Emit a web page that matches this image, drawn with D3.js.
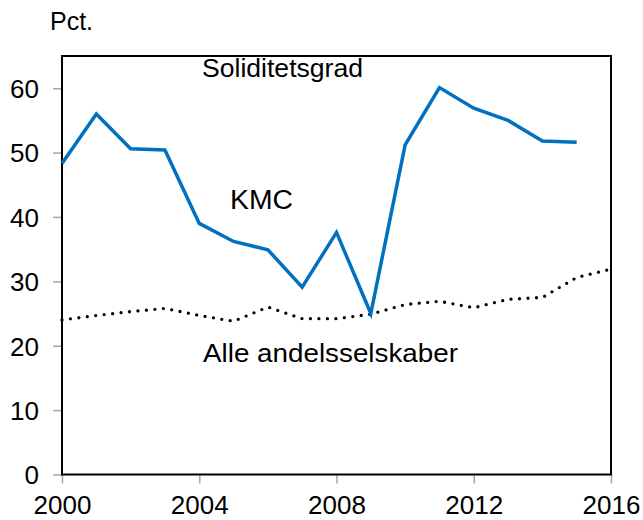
<!DOCTYPE html>
<html>
<head>
<meta charset="utf-8">
<script src="https://cdn.jsdelivr.net/npm/d3@7"></script>
<style>
  body { margin: 0; background: #fff; }
  svg text { font-family: "Liberation Sans", Arial, sans-serif; fill: #000; }
</style>
</head>
<body>
<svg id="chart"></svg>
<script>
// Data
const kmcYears = d3.range(2000, 2016);
const kmcValues = [48.3, 56.0, 50.6, 50.4, 39.0, 36.2, 34.9, 29.1, 37.6, 25.0, 51.2, 60.1, 56.9, 55.0, 51.8, 51.6];
const alleYears = d3.range(2000, 2017);
const alleValues = [24.0, 24.7, 25.3, 25.8, 24.7, 23.8, 26.0, 24.2, 24.2, 24.9, 26.4, 26.9, 25.9, 27.2, 27.5, 30.6, 31.9];
const xTicks = [2000, 2004, 2008, 2012, 2016];
const yTicks = [0, 10, 20, 30, 40, 50, 60];

const W = 643, H = 520;
const margin = { top: 56, right: 32, bottom: 45.5, left: 62 };
const width = W - margin.left - margin.right;
const height = H - margin.top - margin.bottom;

const svg = d3.select("#chart").attr("width", W).attr("height", H);
const g = svg.append("g").attr("transform", `translate(${margin.left},${margin.top})`);

const x = d3.scaleLinear().domain([2000, 2016]).range([0, width]);
const y = d3.scaleLinear().domain([0, 65]).range([height, 0]);

// y axis ticks + labels
const yAxis = g.append("g")
  .call(d3.axisLeft(y).tickValues(yTicks).tickSize(9).tickPadding(14).tickFormat(d3.format("d")));
yAxis.select(".domain").remove();
yAxis.selectAll(".tick line").attr("stroke", "#a6a6a6").attr("stroke-width", 1.5);
yAxis.selectAll(".tick text").style("font-size", "26px").attr("dy", "0.36em");

// x axis ticks + labels
const xAxis = g.append("g")
  .attr("transform", `translate(0,${height})`)
  .call(d3.axisBottom(x).tickValues(xTicks).tickSize(9).tickPadding(12).tickFormat(d3.format("d")));
xAxis.select(".domain").remove();
xAxis.selectAll(".tick line").attr("stroke", "#a6a6a6").attr("stroke-width", 1.5);
xAxis.selectAll(".tick text").style("font-size", "26px");

// plot frame
g.append("rect")
  .attr("x", 0).attr("y", 0)
  .attr("width", width).attr("height", height)
  .attr("fill", "none").attr("stroke", "#000").attr("stroke-width", 2);

const line = d3.line().x(d => x(d[0])).y(d => y(d[1]));

// Alle andelsselskaber (dotted)
g.append("path")
  .datum(d3.zip(alleYears, alleValues))
  .attr("d", line)
  .attr("fill", "none")
  .attr("stroke", "#000")
  .attr("stroke-width", 3.3)
  .attr("stroke-linecap", "round")
  .attr("stroke-dasharray", "0 8.5");

// KMC (blue)
g.append("path")
  .datum(d3.zip(kmcYears, kmcValues))
  .attr("d", line)
  .attr("fill", "none")
  .attr("stroke", "#0070c0")
  .attr("stroke-width", 3.5)
  .attr("stroke-linejoin", "miter");

// labels (the source text is drawn slightly wide, so fit the widths)
svg.append("text").attr("x", 50).attr("y", 30).style("font-size", "25px").text("Pct.");
svg.append("text").attr("x", 202).attr("y", 77)
  .attr("textLength", 161).attr("lengthAdjust", "spacingAndGlyphs")
  .style("font-size", "25px").text("Soliditetsgrad");
svg.append("text").attr("x", 230).attr("y", 209)
  .attr("textLength", 63).attr("lengthAdjust", "spacingAndGlyphs")
  .style("font-size", "27px").text("KMC");
svg.append("text").attr("x", 203).attr("y", 362)
  .attr("textLength", 255).attr("lengthAdjust", "spacingAndGlyphs")
  .style("font-size", "25.5px").text("Alle andelsselskaber");
</script>
</body>
</html>
